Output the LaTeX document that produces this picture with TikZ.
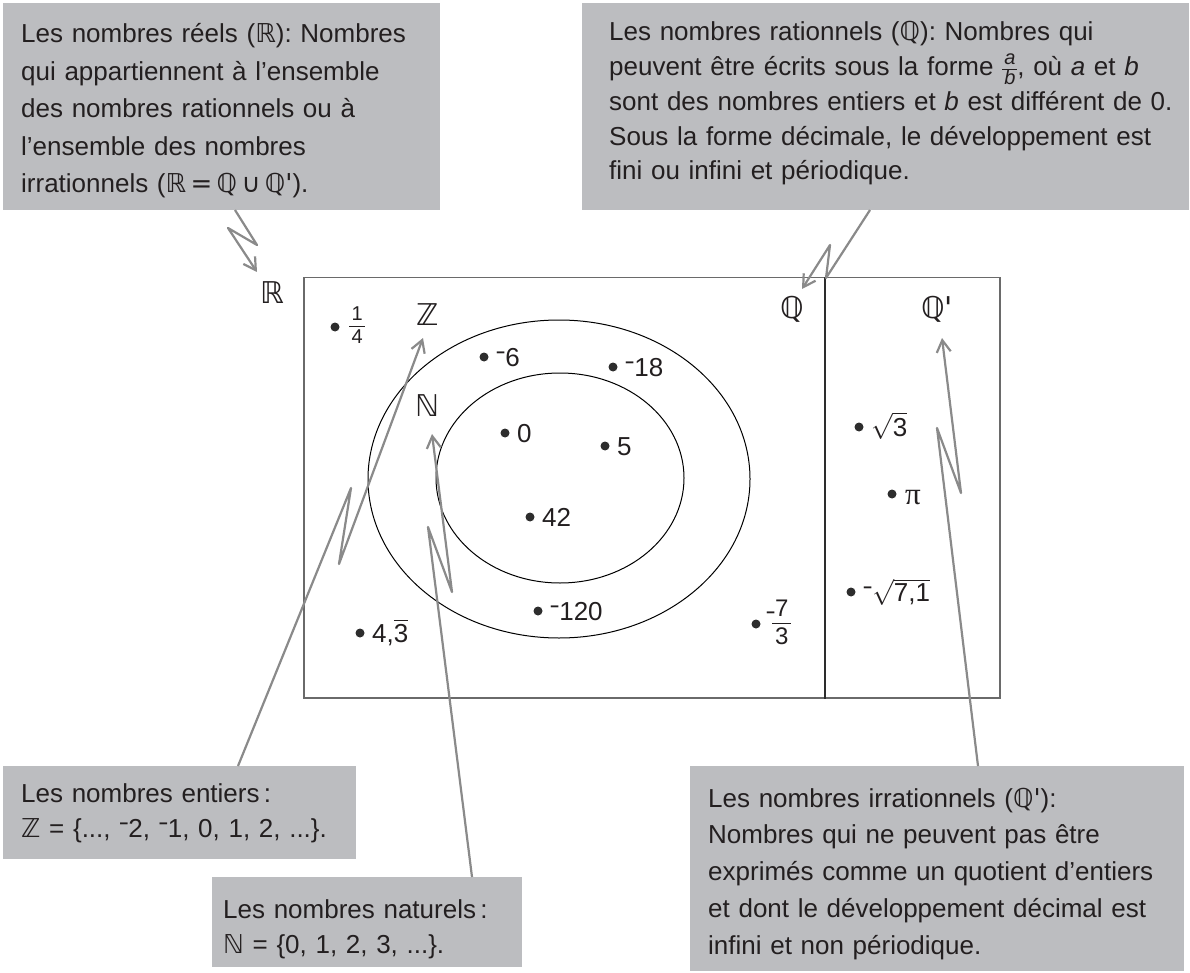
\RequirePackage{fix-cm}
\documentclass[tikz,border=0pt]{standalone}
\usepackage{amsmath}
\usepackage{graphicx}
\usepackage{fontspec}
\setmainfont{Liberation Sans}
\newfontfamily\symf{DejaVu Sans}
\newfontfamily\serf{Liberation Serif}
\usetikzlibrary{arrows.meta,shapes.geometric}
\definecolor{boxgray}{HTML}{BCBDC0}
\definecolor{arrgray}{HTML}{8A8A8A}
\definecolor{ink}{HTML}{231F20}
\definecolor{framegray}{HTML}{6A6A6A}
\definecolor{dotc}{HTML}{2D2D2D}
\newcommand\setR{{\symf ℝ}}
\newcommand\setQ{{\symf ℚ}}
\newcommand\setZ{{\symf ℤ}}
\newcommand\setN{{\symf ℕ}}
\newcommand\negsign{\raisebox{0.2em}{\scalebox{0.6}[1]{−}}}
% fraction built from a two-row table, bar in the middle
\newcommand\fracbox[3][20]{{\fontsize{#1}{8}\selectfont\setlength\arrayrulewidth{1.4pt}%
  \begin{tabular}{@{\hspace{0.12em}}c@{\hspace{0.12em}}}\rule[-0.25em]{0pt}{0.98em}#2\\\hline
  \rule[-0.2em]{0pt}{1.03em}#3\end{tabular}}}
\newcommand\fracinline[2]{{\fontsize{20}{8}\selectfont\setlength\arrayrulewidth{1.2pt}%
  \begin{tabular}{@{\hspace{2pt}}c@{\hspace{2pt}}}\rule[-0.22em]{0pt}{0.85em}#1\\\hline
  \rule[-0.22em]{0pt}{0.85em}#2\end{tabular}}}
\tikzset{
  infobox/.style={fill=boxgray, draw=none, inner sep=0pt, anchor=north west},
  infotext/.style={inner sep=0pt, anchor=base west, align=left, text=ink, text width=600pt},
  ptdot/.style={circle, fill=dotc, inner sep=0pt, minimum size=9pt},
  numlbl/.style={inner sep=0pt, anchor=base west, text=ink, font=\fontsize{26}{30}\selectfont},
  setlbl/.style={inner sep=0pt, anchor=center, text=ink, font=\symf\fontsize{30}{30}\selectfont},
  venn/.style={draw=black, line width=1pt, ellipse, inner sep=0pt},
  callout/.style={draw=arrgray, line width=2.2pt, line join=round,
    -{Straight Barb[length=12pt,width=14pt]}}
}
\begin{document}
\begin{tikzpicture}[x=1pt,y=-1pt]
\useasboundingbox (0,0) rectangle (1190,973);

% ---- information boxes ----
\node[infobox, minimum width=437pt, minimum height=207pt] (boxR) at (3,3) {};
\node[infotext, font=\fontsize{26}{37.5}\selectfont] (tR) at (21,43)
 {Les nombres réels (\setR): Nombres\\
  qui appartiennent à l’ensemble\\
  des nombres rationnels ou à\\
  l’ensemble des nombres\\
  irrationnels (\setR\,{\symf =}\,\setQ\,{\symf ∪}\,\setQ{\symf\textquotesingle}).};

\node[infobox, minimum width=607pt, minimum height=207pt] (boxQ) at (582,3) {};
\node[infotext, font=\fontsize{26}{34.8}\selectfont] (tQ) at (609,40.7)
 {Les nombres rationnels (\setQ): Nombres qui\\
  peuvent être écrits sous la forme \fracinline{\textit{a}}{\textit{b}}, où \textit{a} et \textit{b}\\
  sont des nombres entiers et \textit{b} est différent de 0.\\
  Sous la forme décimale, le développement est\\
  fini ou infini et périodique.};

\node[infobox, minimum width=353pt, minimum height=93pt] (boxZ) at (3,766) {};
\node[infotext, font=\fontsize{26}{34.5}\selectfont] (tZ) at (21,802.7)
 {Les nombres entiers\,:\\
  \setZ\ = \{..., \negsign2, \negsign1, 0, 1, 2, ...\}.};

\node[infobox, minimum width=310pt, minimum height=90pt] (boxN) at (212,877) {};
\node[infotext, font=\fontsize{26}{35}\selectfont] (tN) at (223,918)
 {Les nombres naturels\,:\\
  \setN\ = \{0, 1, 2, 3, ...\}.};

\node[infobox, minimum width=494pt, minimum height=205pt] (boxI) at (690,766) {};
\node[infotext, font=\fontsize{26}{36.75}\selectfont] (tI) at (708,807)
 {Les nombres irrationnels (\setQ{\symf\textquotesingle}):\\
  Nombres qui ne peuvent pas être\\
  exprimés comme un quotient d’entiers\\
  et dont le développement décimal est\\
  infini et non périodique.};

% ---- Venn diagram ----
\node[draw=framegray, line width=1.5pt, inner sep=0pt, anchor=north west,
      minimum width=696pt, minimum height=420pt] (frame) at (303,277) {};
\draw[draw=dotc, line width=2pt] ([xshift=522pt]frame.north west) -- ([xshift=522pt]frame.south west);
\node[venn, minimum width=382pt, minimum height=318pt] (ellZ) at (559,479) {};
\node[venn, minimum width=248pt, minimum height=210pt] (ellN) at (560,478) {};

\node[setlbl] (lR) at (272,293) {\setR};
\node[setlbl] (lZ) at (428,315) {\setZ};
\node[setlbl] (lN) at (428,406) {\setN};
\node[setlbl] (lQ) at (792,309) {\setQ};
\node[setlbl] (lI) at (937,309) {\setQ\textquotesingle};

% ---- points ----
\node[ptdot] (p1) at (335,327) {};
\node[numlbl, anchor=west] (n1) at (349,327) {\fracbox[20]{1}{4}};
\node[ptdot] (p2) at (484,357) {};
\node[numlbl] (n2) at (496,366.3) {\negsign6};
\node[ptdot] (p3) at (613,367) {};
\node[numlbl] (n3) at (625,376.3) {\negsign18};
\node[ptdot] (p4) at (505,433) {};
\node[numlbl] (n4) at (517,442.3) {0};
\node[ptdot] (p5) at (605,446) {};
\node[numlbl] (n5) at (617,455.3) {5};
\node[ptdot] (p6) at (530,517) {};
\node[numlbl] (n6) at (542,526.3) {42};
\node[ptdot] (p7) at (538,611) {};
\node[numlbl] (n7) at (550,620.3) {\negsign120};
\node[ptdot] (p8) at (360,633) {};
\node[numlbl] (n8) at (372,642.3) {4,$\overline{\text{3}}$};
\node[ptdot] (p9) at (756,624) {};
\node[numlbl] (n9m) at (766,627) {\negsign};
\node[numlbl, anchor=west] (n9) at (772,624) {\fracbox[24]{7}{3}};
\node[ptdot] (p10) at (859,427) {};
\node[numlbl] (n10) at (871,436.3) {$\sqrt{\text{3}}$};
\node[ptdot] (p11) at (892,494) {};
\node[numlbl, font=\serf\fontsize{31}{31}\selectfont] (n11) at (905,504) {π};
\node[ptdot] (p12) at (851,592) {};
\node[numlbl] (n12) at (863,601.3) {\negsign$\sqrt{\text{7,1}}$};

% ---- callout connectors ----
\coordinate (r0) at (235,210); \coordinate (r1) at (257,245);
\coordinate (r2) at (228,228); \coordinate (r3) at (257,272);
\draw[callout] (r0) -- (r1) -- (r2) -- (r3);

\coordinate (q0) at (870,210); \coordinate (q1) at (826,278);
\coordinate (q2) at (830,245); \coordinate (q3) at (802,289);
\draw[callout] (q0) -- (q1) -- (q2) -- (q3);

\coordinate (z0) at (238,766); \coordinate (z1) at (351,488);
\coordinate (z2) at (339,564); \coordinate (z3) at (423,338);
\draw[callout] (z0) -- (z1) -- (z2) -- (z3);

\coordinate (m0) at (472,877); \coordinate (m1) at (428,527);
\coordinate (m2) at (452,592); \coordinate (m3) at (432,434);
\draw[callout] (m0) -- (m1) -- (m2) -- (m3);

\coordinate (i0) at (978,766); \coordinate (i1) at (937,428);
\coordinate (i2) at (961,493); \coordinate (i3) at (942,338);
\draw[callout] (i0) -- (i1) -- (i2) -- (i3);
\end{tikzpicture}
\end{document}
